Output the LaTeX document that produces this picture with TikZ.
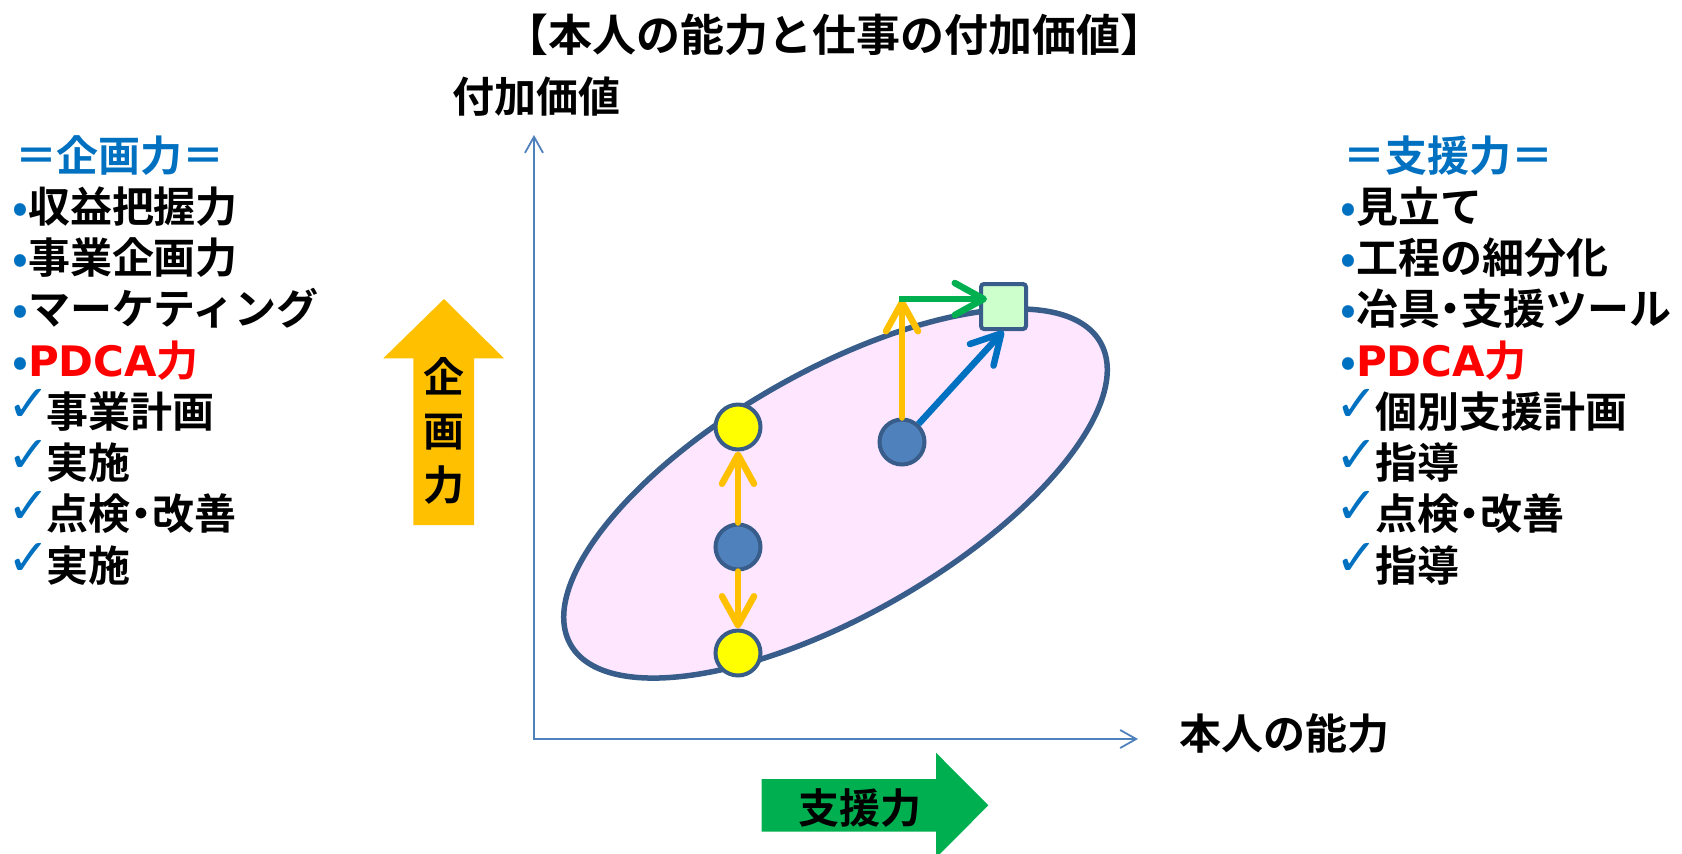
\documentclass[tikz,border=0pt]{standalone}
\usepackage{fontspec}
\setmainfont{Noto Sans CJK JP}[BoldFont={Noto Sans CJK JP Bold}]
\newfontfamily\dejavu{DejaVu Sans}
\usetikzlibrary{arrows.meta,shapes.geometric}
\definecolor{edge}{HTML}{385D8A}
\definecolor{pinkfill}{HTML}{FFE6FF}
\definecolor{yel}{HTML}{FFFF00}
\definecolor{bfill}{HTML}{4F81BD}
\definecolor{sqfill}{HTML}{CCFFCC}
\definecolor{yarrow}{HTML}{FFC000}
\definecolor{garrow}{HTML}{00B050}
\definecolor{barrow}{HTML}{0070C0}
\definecolor{axblue}{HTML}{4F81BD}
\definecolor{tblue}{HTML}{0070C0}
\definecolor{tred}{HTML}{FF0000}
\newcommand\bul{\makebox[8pt][c]{\color{tblue}•}}
\newcommand\chk{\makebox[16pt][l]{\hspace{-4pt}\makebox[0pt][l]{\dejavu\fontsize{25.5pt}{25.5pt}\selectfont\color{tblue}\raisebox{3pt}{✓}}}}
\newcommand\nkg{\makebox[0.5em][c]{・}}
\newcommand\pdca{{\color{tred}{\dejavu\bfseries PDCA}力}}
\begin{document}
\begin{tikzpicture}[x=0.5pt,y=-0.5pt,
  txt/.style={inner sep=0pt, outer sep=0pt, font=\bfseries\fontsize{21pt}{25pt}\selectfont},
  lst/.style={txt, anchor=base west},
  dot/.style={circle, draw=edge, line width=2pt, minimum size=22.5pt, inner sep=0pt},
  tipb/.style={-{Straight Barb[length=14.5pt,width=16pt,round]}},
  yarr/.style={draw=yarrow, line width=3.25pt, line cap=round, tipb},
  garr/.style={draw=garrow, line width=3.25pt, tipb},
  barr/.style={draw=barrow, line width=3.25pt, tipb},
  axis/.style={draw=axblue, line width=0.9pt, {Straight Barb[length=8pt,width=9pt]}-{Straight Barb[length=8pt,width=9pt]}}
]
\useasboundingbox (0,0) rectangle (1682,853);
\clip (0,0) rectangle (1682,853);

% title and axis labels
\node[txt, font=\bfseries\fontsize{22pt}{25pt}\selectfont, anchor=base] (title) at (834,51) {【本人の能力と仕事の付加価値】};
\node[txt, anchor=base] (ylab) at (536,112) {付加価値};
\node[txt, anchor=base] (xlab) at (1284,749) {本人の能力};

% axes
\coordinate (O) at (534,739);
\coordinate (ytop) at (534,135);
\coordinate (xend) at (1138,739);
\draw[axis] (ytop) -- (O) -- (xend);

% big arrows
\fill[yarrow] (413.3,525) -- (413.3,358.3) -- (383.3,358.3) -- (444,299) -- (504,358.3) -- (474,358.3) -- (474,525) -- cycle;
\node[txt, font=\bfseries\fontsize{20.5pt}{27pt}\selectfont, align=center] (kikaku) at (444,431) {企\\画\\力};
\fill[garrow] (761.7,779) -- (936,779) -- (936,752.7) -- (988.3,805.3) -- (936,858) -- (936,831.7) -- (761.7,831.7) -- cycle;
\node[txt, font=\bfseries\fontsize{20.5pt}{24pt}\selectfont, anchor=base] (shien) at (860,823) {支援力};

% ellipse
\node[ellipse, draw=edge, line width=2.75pt, fill=pinkfill, minimum width=305pt, minimum height=122pt, rotate=29.7, inner sep=0pt] (ell) at (835.5,493.5) {};

% points
\node[dot, fill=yel] (yt) at (738,427) {};
\node[dot, fill=bfill] (bm) at (738,547) {};
\node[dot, fill=yel] (yb) at (738,653) {};
\node[dot, fill=bfill] (br) at (902,442) {};
\node[draw=edge, line width=2pt, fill=sqfill, minimum size=22.5pt, rounded corners=1.5pt, inner sep=0pt] (sq) at (1003.5,306.5) {};
\coordinate (corner) at (899,299);

% connectors
\draw[yarr] (bm.north) -- (yt.south);
\draw[yarr] (bm.south) -- (yb.north);
\draw[yarr] (br.north) -- (br.north |- corner);
\draw[barr] (br) -- (sq.south);
\draw[garr] (corner) -- ([xshift=4pt]sq.west |- corner);

% left list
\node[lst] (L1) at (15,171) {\color{tblue}＝企画力＝};
\node[lst] (L2) at (12,222.25) {\bul 収益把握力};
\node[lst] (L3) at (12,273.5) {\bul 事業企画力};
\node[lst] (L4) at (12,324.75) {\bul マーケティング};
\node[lst] (L5) at (12,376) {\bul\pdca};
\node[lst] (L6) at (15,427.25) {\chk 事業計画};
\node[lst] (L7) at (15,478.5) {\chk 実施};
\node[lst] (L8) at (15,529.75) {\chk 点検\nkg 改善};
\node[lst] (L9) at (15,581) {\chk 実施};

% right list
\node[lst] (R1) at (1343,171) {\color{tblue}＝支援力＝};
\node[lst] (R2) at (1340,222.25) {\bul 見立て};
\node[lst] (R3) at (1340,273.5) {\bul 工程の細分化};
\node[lst] (R4) at (1340,324.75) {\bul 冶具\nkg 支援ツール};
\node[lst] (R5) at (1340,376) {\bul\pdca};
\node[lst] (R6) at (1343,427.25) {\chk 個別支援計画};
\node[lst] (R7) at (1343,478.5) {\chk 指導};
\node[lst] (R8) at (1343,529.75) {\chk 点検\nkg 改善};
\node[lst] (R9) at (1343,581) {\chk 指導};
\end{tikzpicture}
\end{document}
